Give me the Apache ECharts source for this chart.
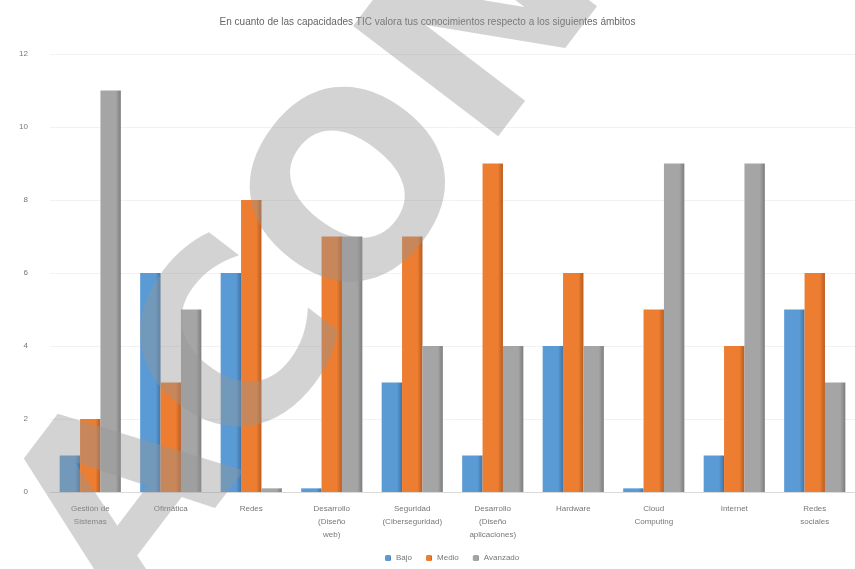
<!DOCTYPE html>
<html><head><meta charset="utf-8">
<script src="https://cdn.jsdelivr.net/npm/echarts@6/dist/echarts.min.js"></script>
<style>html,body{margin:0;padding:0;background:#fff}#c{width:855px;height:569px}</style>
</head><body><div id="c"></div>
<script>
const categories = ["Gestión de\nSistemas","Ofimática","Redes","Desarrollo\n(Diseño\nweb)","Seguridad\n(Ciberseguridad)","Desarrollo\n(Diseño\naplicaciones)","Hardware","Cloud\nComputing","Internet","Redes\nsociales"];
const seriesNames = ["Bajo","Medio","Avanzado"];
const bajo = [1,6,6,0.1,3,1,4,0.1,1,5];
const medio = [2,3,8,7,7,9,6,5,4,6];
const avanzado = [11,5,0.1,7,4,4,4,9,9,3];
const yTicks = {min:0,max:12,interval:2};
const colors = ["#5B9BD5","#ED7D31","#A5A5A5"];
const dark = ["#3f74a8","#b85c1e","#7d7d7d"];

function grad(i){
  return new echarts.graphic.LinearGradient(0,0,1,0,[
    {offset:0,color:colors[i]},{offset:0.75,color:colors[i]},{offset:1,color:dark[i]}]);
}
const chart = echarts.init(document.getElementById('c'));
chart.setOption({
  animation:false,
  title:{text:"En cuanto de las capacidades TIC valora tus conocimientos respecto a los siguientes ámbitos",left:'center',top:12,
    textStyle:{fontSize:10,fontWeight:'normal',color:'#666',fontFamily:'Liberation Sans'}},
  legend:{data:seriesNames,bottom:2,left:380,itemWidth:6,itemHeight:6,itemGap:14,
    textStyle:{fontSize:8,color:'#777',fontFamily:'Liberation Sans'}},
  grid:{left:50,right:0,top:54,bottom:77},
  xAxis:{type:'category',data:categories,
    axisLine:{lineStyle:{color:'#d9d9d9'}},axisTick:{show:false},
    axisLabel:{interval:0,fontSize:8,color:'#777',lineHeight:13,margin:10,fontFamily:'Liberation Sans'}},
  yAxis:{type:'value',min:yTicks.min,max:yTicks.max,interval:yTicks.interval,
    axisLabel:{fontSize:8,color:'#777',margin:22,fontFamily:'Liberation Sans'},
    splitLine:{lineStyle:{color:'#f2f2f2'}}},
  series:[bajo,medio,avanzado].map((d,i)=>({
    name:seriesNames[i],type:'bar',data:d,barGap:'0%',barCategoryGap:'24%',
    itemStyle:{color:grad(i)}
  })),
  color:colors,
  graphic:[{type:'text',x:175,y:660,rotation:0.92,
    style:{text:'ACONVERT',fontSize:250,fontFamily:'DejaVu Sans',fontWeight:'bold',
      fill:'rgba(150,150,150,0.42)',textAlign:'left',textVerticalAlign:'bottom'},
    z:100,silent:true}]
});
</script></body></html>
